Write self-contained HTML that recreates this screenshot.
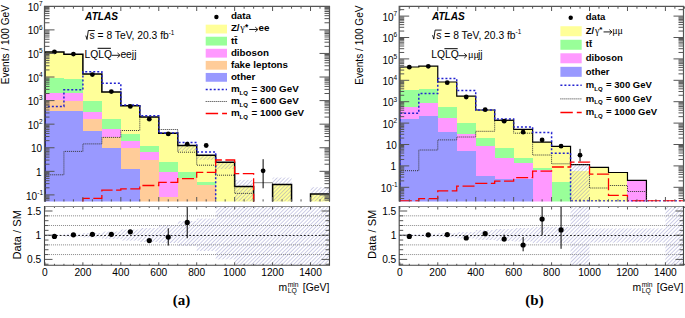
<!DOCTYPE html>
<html><head><meta charset="utf-8"><title>LQ figure</title>
<style>html,body{margin:0;padding:0;background:#fff;}body{width:685px;height:318px;overflow:hidden;}svg{display:block;}text{font-family:"Liberation Sans", sans-serif;}</style>
</head><body>
<svg width="685" height="318" viewBox="0 0 685 318">
<defs>
<pattern id="hatch" patternUnits="userSpaceOnUse" width="2.7" height="2.7" patternTransform="rotate(45)"><rect x="0" y="0" width="0.9" height="2.7" fill="#8080c0" fill-opacity="0.42"/></pattern>
<clipPath id="cl"><rect x="44.5" y="6.5" width="285" height="195"/></clipPath>
<clipPath id="cr"><rect x="399.2" y="6.5" width="284.3" height="195"/></clipPath>
<clipPath id="clr"><rect x="44.5" y="206.5" width="285" height="58.8"/></clipPath>
<clipPath id="crr"><rect x="399.2" y="206.5" width="284.3" height="58.8"/></clipPath>
</defs>
<rect width="685" height="318" fill="#fff"/>
<g clip-path="url(#cl)">
<g shape-rendering="crispEdges">
<rect x="44.95" y="52" width="18.97" height="25.8" fill="#ffff99"/>
<rect x="44.95" y="77.8" width="18.97" height="14.8" fill="#99ff99"/>
<rect x="44.95" y="92.6" width="18.97" height="7.5" fill="#ff99ff"/>
<rect x="44.95" y="100.1" width="18.97" height="11.3" fill="#ffcc99"/>
<rect x="44.95" y="111.4" width="18.97" height="90.1" fill="#9999ff"/>
<rect x="63.92" y="54.2" width="18.97" height="24.8" fill="#ffff99"/>
<rect x="63.92" y="79" width="18.97" height="13.8" fill="#99ff99"/>
<rect x="63.92" y="92.8" width="18.97" height="8" fill="#ff99ff"/>
<rect x="63.92" y="100.8" width="18.97" height="10" fill="#ffcc99"/>
<rect x="63.92" y="110.8" width="18.97" height="90.7" fill="#9999ff"/>
<rect x="82.89" y="74" width="18.97" height="27.1" fill="#ffff99"/>
<rect x="82.89" y="101.1" width="18.97" height="11" fill="#99ff99"/>
<rect x="82.89" y="112.1" width="18.97" height="6.5" fill="#ff99ff"/>
<rect x="82.89" y="118.6" width="18.97" height="12.1" fill="#ffcc99"/>
<rect x="82.89" y="130.7" width="18.97" height="70.8" fill="#9999ff"/>
<rect x="101.86" y="92" width="18.97" height="27.4" fill="#ffff99"/>
<rect x="101.86" y="119.4" width="18.97" height="9.4" fill="#99ff99"/>
<rect x="101.86" y="128.8" width="18.97" height="8.6" fill="#ff99ff"/>
<rect x="101.86" y="137.4" width="18.97" height="10.9" fill="#ffcc99"/>
<rect x="101.86" y="148.3" width="18.97" height="53.2" fill="#9999ff"/>
<rect x="120.83" y="105.8" width="18.97" height="27.9" fill="#ffff99"/>
<rect x="120.83" y="133.7" width="18.97" height="7.7" fill="#99ff99"/>
<rect x="120.83" y="141.4" width="18.97" height="6.6" fill="#ff99ff"/>
<rect x="120.83" y="148" width="18.97" height="20.9" fill="#ffcc99"/>
<rect x="120.83" y="168.9" width="18.97" height="32.6" fill="#9999ff"/>
<rect x="139.8" y="117.1" width="18.97" height="28.7" fill="#ffff99"/>
<rect x="139.8" y="145.8" width="18.97" height="5.7" fill="#99ff99"/>
<rect x="139.8" y="151.5" width="18.97" height="8.3" fill="#ff99ff"/>
<rect x="139.8" y="159.8" width="18.97" height="41.7" fill="#ffcc99"/>
<rect x="158.77" y="133.2" width="18.97" height="28.8" fill="#ffff99"/>
<rect x="158.77" y="162" width="18.97" height="9.7" fill="#99ff99"/>
<rect x="158.77" y="171.7" width="18.97" height="25.3" fill="#ff99ff"/>
<rect x="158.77" y="197" width="18.97" height="4.5" fill="#ffcc99"/>
<rect x="177.74" y="145.4" width="18.97" height="26.4" fill="#ffff99"/>
<rect x="177.74" y="171.8" width="18.97" height="5.8" fill="#99ff99"/>
<rect x="177.74" y="177.6" width="18.97" height="23.9" fill="#ffcc99"/>
<rect x="196.71" y="155.2" width="18.97" height="26.9" fill="#ffff99"/>
<rect x="196.71" y="182.1" width="18.97" height="2.4" fill="#99ff99"/>
<rect x="196.71" y="184.5" width="18.97" height="17" fill="#ffcc99"/>
<rect x="215.68" y="162.3" width="18.97" height="39.2" fill="#ffff99"/>
<rect x="234.65" y="186.6" width="18.97" height="14.9" fill="#ffff99"/>
<rect x="272.59" y="184.6" width="18.97" height="16.9" fill="#ffff99"/>
<rect x="310.53" y="194" width="18.97" height="7.5" fill="#ffff99"/>
</g>
<rect x="177.74" y="145.4" width="18.97" height="5.6" fill="url(#hatch)"/>
<rect x="196.71" y="155.2" width="18.97" height="4.6" fill="url(#hatch)"/>
<rect x="215.68" y="162.3" width="18.97" height="6.7" fill="url(#hatch)"/>
<rect x="234.65" y="179.9" width="18.97" height="21.6" fill="url(#hatch)"/>
<rect x="272.59" y="177.6" width="18.97" height="23.9" fill="url(#hatch)"/>
<rect x="310.53" y="187.2" width="18.97" height="14.3" fill="url(#hatch)"/>
<path d="M253.62 182.7H272.59V201.5" fill="none" stroke="#777" stroke-width="0.9"/>
<path d="M44.95 203.5V52H63.92V54.2H82.89V74H101.86V92H120.83V105.8H139.8V117.1H158.77V133.2H177.74V145.4H196.71V155.2H215.68V162.3H234.65V186.6H253.62V203.5H272.59V184.6H291.56V203.5H310.53V194H329.5" fill="none" stroke="#000" stroke-width="1.5"/>
<path d="M44.95 203.5V106.4H63.92V89.8H82.89V71.8H101.86V83.2H120.83V104.9H139.8V115.8H158.77V133H177.74V142.5H196.71V152H215.68V203.5H234.65V203.5H253.62V203.5H272.59V203.5H291.56V203.5H310.53V203.5H329.5" fill="none" stroke="#2222d0" stroke-width="1.5" stroke-dasharray="2 2"/>
<path d="M44.95 203.5V174.8H63.92V151.4H82.89V143.9H101.86V137.4H120.83V130.5H139.8V117.4H158.77V129.5H177.74V152.2H196.71V165.2H215.68V175.2H234.65V193.4H253.62V203.5H272.59V203.5H291.56V203.5H310.53V203.5H329.5" fill="none" stroke="#333" stroke-width="1" stroke-dasharray="1 1"/>
<path d="M82.89 203.5V198.4H101.86V190.2H120.83V188.9H139.8V185.5H158.77V182.4H177.74V178.6H196.71V172.4H215.68V160H234.65V173.6H253.62V203.5H272.59V203.5H291.56V203.5H310.53V203.5H329.5" fill="none" stroke="#ff0000" stroke-width="1.3" stroke-dasharray="12 3.5"/>
</g>
<circle cx="54.44" cy="51.9" r="2.4" fill="#000"/>
<circle cx="73.41" cy="54.1" r="2.4" fill="#000"/>
<circle cx="92.38" cy="74.6" r="2.4" fill="#000"/>
<circle cx="111.34" cy="91.6" r="2.4" fill="#000"/>
<circle cx="130.31" cy="106.4" r="2.4" fill="#000"/>
<circle cx="149.29" cy="119.2" r="2.4" fill="#000"/>
<circle cx="168.25" cy="133.9" r="2.4" fill="#000"/>
<circle cx="187.23" cy="144.2" r="2.4" fill="#000"/>
<circle cx="206.19" cy="145.5" r="2.4" fill="#000"/>
<circle cx="263.11" cy="170.8" r="2.4" fill="#000"/>
<line x1="263.11" y1="159.2" x2="263.11" y2="188.3" stroke="#000" stroke-width="1"/>
<g clip-path="url(#cr)">
<g shape-rendering="crispEdges">
<rect x="399.83" y="67" width="18.97" height="22.6" fill="#ffff99"/>
<rect x="399.83" y="89.6" width="18.97" height="17" fill="#99ff99"/>
<rect x="399.83" y="106.6" width="18.97" height="12.2" fill="#ff99ff"/>
<rect x="399.83" y="118.8" width="18.97" height="82.7" fill="#9999ff"/>
<rect x="418.8" y="66.1" width="18.97" height="22.9" fill="#ffff99"/>
<rect x="418.8" y="89" width="18.97" height="13.8" fill="#99ff99"/>
<rect x="418.8" y="102.8" width="18.97" height="13.1" fill="#ff99ff"/>
<rect x="418.8" y="115.9" width="18.97" height="85.6" fill="#9999ff"/>
<rect x="437.77" y="82" width="18.97" height="25.1" fill="#ffff99"/>
<rect x="437.77" y="107.1" width="18.97" height="11.1" fill="#99ff99"/>
<rect x="437.77" y="118.2" width="18.97" height="13.4" fill="#ff99ff"/>
<rect x="437.77" y="131.6" width="18.97" height="69.9" fill="#9999ff"/>
<rect x="456.74" y="96.2" width="18.97" height="26.9" fill="#ffff99"/>
<rect x="456.74" y="123.1" width="18.97" height="10.7" fill="#99ff99"/>
<rect x="456.74" y="133.8" width="18.97" height="17" fill="#ff99ff"/>
<rect x="456.74" y="150.8" width="18.97" height="50.7" fill="#9999ff"/>
<rect x="475.71" y="110" width="18.97" height="27.6" fill="#ffff99"/>
<rect x="475.71" y="137.6" width="18.97" height="8.8" fill="#99ff99"/>
<rect x="475.71" y="146.4" width="18.97" height="29.9" fill="#ff99ff"/>
<rect x="475.71" y="176.3" width="18.97" height="25.2" fill="#9999ff"/>
<rect x="494.68" y="120.4" width="18.97" height="27.9" fill="#ffff99"/>
<rect x="494.68" y="148.3" width="18.97" height="9.4" fill="#99ff99"/>
<rect x="494.68" y="157.7" width="18.97" height="21.7" fill="#ff99ff"/>
<rect x="494.68" y="179.4" width="18.97" height="22.1" fill="#9999ff"/>
<rect x="513.65" y="129.4" width="18.97" height="28.4" fill="#ffff99"/>
<rect x="513.65" y="157.8" width="18.97" height="5.2" fill="#99ff99"/>
<rect x="513.65" y="163" width="18.97" height="15.5" fill="#ff99ff"/>
<rect x="513.65" y="178.5" width="18.97" height="23" fill="#9999ff"/>
<rect x="532.62" y="142.2" width="18.97" height="26" fill="#ffff99"/>
<rect x="532.62" y="168.2" width="18.97" height="1.8" fill="#99ff99"/>
<rect x="532.62" y="170" width="18.97" height="31.5" fill="#ff99ff"/>
<rect x="551.59" y="146.4" width="18.97" height="35.6" fill="#ffff99"/>
<rect x="551.59" y="182" width="18.97" height="19.5" fill="#99ff99"/>
<rect x="570.56" y="171.1" width="18.97" height="30.4" fill="#ffff99"/>
<rect x="589.53" y="167.3" width="18.97" height="34.2" fill="#ffff99"/>
<rect x="608.5" y="172.5" width="18.97" height="29" fill="#ffff99"/>
<rect x="627.47" y="180.3" width="18.97" height="21.2" fill="#ff99ff"/>
</g>
<rect x="570.56" y="164.7" width="18.97" height="36.8" fill="url(#hatch)"/>
<path d="M399.83 203.5V67H418.8V66.1H437.77V82H456.74V96.2H475.71V110H494.68V120.4H513.65V129.4H532.62V142.2H551.59V146.4H570.56V164.7H589.53V167.3H608.5V172.5H627.47V180.3H646.44V203.5H665.41V203.5H684.38" fill="none" stroke="#000" stroke-width="1.2"/>
<path d="M399.83 200.9V113.2H418.8V93.6H437.77V78.5H456.74V90.6H475.71V110H494.68V119H513.65V127H532.62V132.6H551.59V153.2H570.56V200.9H589.53V200.9H608.5V200.9H627.47V200.9H646.44V200.9H665.41V200.9H684.38" fill="none" stroke="#2222d0" stroke-width="1.5" stroke-dasharray="2 2"/>
<path d="M399.83 203.5V170.7H418.8V150H437.77V139.9H456.74V137H475.71V131.3H494.68V120H513.65V133.2H532.62V155H551.59V163.8H570.56V164.5H589.53V188H608.5V185.5H627.47V191.5H646.44V203.5H665.41V203.5H684.38" fill="none" stroke="#333" stroke-width="1" stroke-dasharray="1 1"/>
<path d="M399.83 200.9V200.9H418.8V198.7H437.77V190.8H456.74V186.1H475.71V183.4H494.68V181.1H513.65V177.7H532.62V171.1H551.59V167H570.56V162.1H589.53V174.2H608.5V195.3H627.47V200.9H646.44V200.9H665.41V200.9H684.38" fill="none" stroke="#ff0000" stroke-width="1.3" stroke-dasharray="12 3.5"/>
</g>
<circle cx="409.31" cy="67.2" r="2.4" fill="#000"/>
<circle cx="428.28" cy="66.3" r="2.4" fill="#000"/>
<circle cx="447.25" cy="82.7" r="2.4" fill="#000"/>
<circle cx="466.23" cy="97" r="2.4" fill="#000"/>
<circle cx="485.19" cy="109.7" r="2.4" fill="#000"/>
<circle cx="504.16" cy="121.2" r="2.4" fill="#000"/>
<circle cx="523.13" cy="132.2" r="2.4" fill="#000"/>
<circle cx="542.11" cy="139.9" r="2.4" fill="#000"/>
<circle cx="561.07" cy="146.2" r="2.4" fill="#000"/>
<circle cx="580.04" cy="155.2" r="2.4" fill="#000"/>
<line x1="580.04" y1="148.9" x2="580.04" y2="161.4" stroke="#000" stroke-width="1"/>
<g clip-path="url(#clr)">
<rect x="44.95" y="234.6" width="18.97" height="1.2" fill="url(#hatch)"/>
<rect x="63.92" y="233.8" width="18.97" height="2.8" fill="url(#hatch)"/>
<rect x="82.89" y="233" width="18.97" height="4.4" fill="url(#hatch)"/>
<rect x="101.86" y="231.5" width="18.97" height="7.4" fill="url(#hatch)"/>
<rect x="120.83" y="229.5" width="18.97" height="11.1" fill="url(#hatch)"/>
<rect x="139.8" y="228" width="18.97" height="14" fill="url(#hatch)"/>
<rect x="158.77" y="225" width="18.97" height="18" fill="url(#hatch)"/>
<rect x="177.74" y="221" width="18.97" height="25" fill="url(#hatch)"/>
<rect x="196.71" y="218.5" width="18.97" height="32.5" fill="url(#hatch)"/>
<rect x="215.68" y="206" width="18.97" height="53.4" fill="url(#hatch)"/>
<rect x="234.65" y="206" width="94.85" height="59.2" fill="url(#hatch)"/>
<line x1="44.95" y1="215.84" x2="329.5" y2="215.84" stroke="#888" stroke-width="1" stroke-dasharray="1 1"/>
<line x1="44.95" y1="225.52" x2="329.5" y2="225.52" stroke="#888" stroke-width="1" stroke-dasharray="1 1"/>
<line x1="44.95" y1="244.88" x2="329.5" y2="244.88" stroke="#888" stroke-width="1" stroke-dasharray="1 1"/>
<line x1="44.95" y1="254.56" x2="329.5" y2="254.56" stroke="#888" stroke-width="1" stroke-dasharray="1 1"/>
<line x1="44.95" y1="235.5" x2="329.5" y2="235.5" stroke="#222" stroke-width="1" stroke-dasharray="1.8 1.9"/>
<line x1="168.25" y1="228.3" x2="168.25" y2="245.6" stroke="#000" stroke-width="1"/>
<line x1="187.23" y1="206" x2="187.23" y2="238.2" stroke="#000" stroke-width="1"/>
<circle cx="54.44" cy="236.4" r="2.6" fill="#000"/>
<circle cx="73.41" cy="234.8" r="2.6" fill="#000"/>
<circle cx="92.38" cy="234.3" r="2.6" fill="#000"/>
<circle cx="111.34" cy="234.3" r="2.6" fill="#000"/>
<circle cx="130.31" cy="231.8" r="2.6" fill="#000"/>
<circle cx="149.29" cy="240.6" r="2.6" fill="#000"/>
<circle cx="168.25" cy="237.1" r="2.6" fill="#000"/>
<circle cx="187.23" cy="222.4" r="2.6" fill="#000"/>
</g>
<g clip-path="url(#crr)">
<rect x="399.83" y="234.2" width="18.97" height="2" fill="url(#hatch)"/>
<rect x="418.8" y="233.8" width="18.97" height="2.8" fill="url(#hatch)"/>
<rect x="437.77" y="233.2" width="18.97" height="4" fill="url(#hatch)"/>
<rect x="456.74" y="232" width="18.97" height="6.4" fill="url(#hatch)"/>
<rect x="475.71" y="230" width="18.97" height="10" fill="url(#hatch)"/>
<rect x="494.68" y="229" width="18.97" height="12" fill="url(#hatch)"/>
<rect x="513.65" y="228" width="18.97" height="13.5" fill="url(#hatch)"/>
<rect x="532.62" y="227" width="37.94" height="16.1" fill="url(#hatch)"/>
<rect x="570.56" y="206" width="18.97" height="59.2" fill="url(#hatch)"/>
<rect x="589.53" y="228.4" width="75.88" height="14.2" fill="url(#hatch)"/>
<rect x="665.41" y="206" width="18.97" height="59.2" fill="url(#hatch)"/>
<line x1="399.83" y1="215.84" x2="684.38" y2="215.84" stroke="#888" stroke-width="1" stroke-dasharray="1 1"/>
<line x1="399.83" y1="225.52" x2="684.38" y2="225.52" stroke="#888" stroke-width="1" stroke-dasharray="1 1"/>
<line x1="399.83" y1="244.88" x2="684.38" y2="244.88" stroke="#888" stroke-width="1" stroke-dasharray="1 1"/>
<line x1="399.83" y1="254.56" x2="684.38" y2="254.56" stroke="#888" stroke-width="1" stroke-dasharray="1 1"/>
<line x1="399.83" y1="235.5" x2="684.38" y2="235.5" stroke="#222" stroke-width="1" stroke-dasharray="1.8 1.9"/>
<line x1="504.16" y1="234.6" x2="504.16" y2="241.5" stroke="#000" stroke-width="1"/>
<line x1="523.13" y1="237" x2="523.13" y2="251.3" stroke="#000" stroke-width="1"/>
<line x1="542.11" y1="206" x2="542.11" y2="235.2" stroke="#000" stroke-width="1"/>
<line x1="561.07" y1="206" x2="561.07" y2="248.8" stroke="#000" stroke-width="1"/>
<circle cx="409.31" cy="236.4" r="2.6" fill="#000"/>
<circle cx="428.28" cy="234.8" r="2.6" fill="#000"/>
<circle cx="447.25" cy="234.6" r="2.6" fill="#000"/>
<circle cx="466.23" cy="238" r="2.6" fill="#000"/>
<circle cx="485.19" cy="233.7" r="2.6" fill="#000"/>
<circle cx="504.16" cy="239" r="2.6" fill="#000"/>
<circle cx="523.13" cy="245" r="2.6" fill="#000"/>
<circle cx="542.11" cy="219.1" r="2.6" fill="#000"/>
<circle cx="561.07" cy="229.9" r="2.6" fill="#000"/>
</g>
<path d="M44.95 6.5v4.5M44.95 201.5v-4.5M54.44 6.5v2.2M54.44 201.5v-2.2M63.92 6.5v2.2M63.92 201.5v-2.2M73.41 6.5v2.2M73.41 201.5v-2.2M82.89 6.5v4.5M82.89 201.5v-4.5M92.38 6.5v2.2M92.38 201.5v-2.2M101.86 6.5v2.2M101.86 201.5v-2.2M111.34 6.5v2.2M111.34 201.5v-2.2M120.83 6.5v4.5M120.83 201.5v-4.5M130.31 6.5v2.2M130.31 201.5v-2.2M139.8 6.5v2.2M139.8 201.5v-2.2M149.28 6.5v2.2M149.28 201.5v-2.2M158.77 6.5v4.5M158.77 201.5v-4.5M168.25 6.5v2.2M168.25 201.5v-2.2M177.74 6.5v2.2M177.74 201.5v-2.2M187.22 6.5v2.2M187.22 201.5v-2.2M196.71 6.5v4.5M196.71 201.5v-4.5M206.19 6.5v2.2M206.19 201.5v-2.2M215.68 6.5v2.2M215.68 201.5v-2.2M225.16 6.5v2.2M225.16 201.5v-2.2M234.65 6.5v4.5M234.65 201.5v-4.5M244.13 6.5v2.2M244.13 201.5v-2.2M253.62 6.5v2.2M253.62 201.5v-2.2M263.1 6.5v2.2M263.1 201.5v-2.2M272.59 6.5v4.5M272.59 201.5v-4.5M282.07 6.5v2.2M282.07 201.5v-2.2M291.56 6.5v2.2M291.56 201.5v-2.2M301.04 6.5v2.2M301.04 201.5v-2.2M310.53 6.5v4.5M310.53 201.5v-4.5M320.01 6.5v2.2M320.01 201.5v-2.2M329.5 6.5v2.2M329.5 201.5v-2.2" stroke="#555" stroke-width="1" fill="none"/>
<path d="M44.5 200.13h5M329.5 200.13h-5M44.5 198.55h5M329.5 198.55h-5M44.5 197.18h5M329.5 197.18h-5M44.5 195.98h5M329.5 195.98h-5M44.5 194.9h10M329.5 194.9h-10M44.5 187.8h5M329.5 187.8h-5M44.5 183.65h5M329.5 183.65h-5M44.5 180.71h5M329.5 180.71h-5M44.5 178.42h5M329.5 178.42h-5M44.5 176.56h5M329.5 176.56h-5M44.5 174.98h5M329.5 174.98h-5M44.5 173.61h5M329.5 173.61h-5M44.5 172.4h5M329.5 172.4h-5M44.5 171.33h10M329.5 171.33h-10M44.5 164.23h5M329.5 164.23h-5M44.5 160.08h5M329.5 160.08h-5M44.5 157.13h5M329.5 157.13h-5M44.5 154.85h5M329.5 154.85h-5M44.5 152.98h5M329.5 152.98h-5M44.5 151.4h5M329.5 151.4h-5M44.5 150.03h5M329.5 150.03h-5M44.5 148.83h5M329.5 148.83h-5M44.5 147.75h10M329.5 147.75h-10M44.5 140.65h5M329.5 140.65h-5M44.5 136.5h5M329.5 136.5h-5M44.5 133.56h5M329.5 133.56h-5M44.5 131.27h5M329.5 131.27h-5M44.5 129.41h5M329.5 129.41h-5M44.5 127.83h5M329.5 127.83h-5M44.5 126.46h5M329.5 126.46h-5M44.5 125.25h5M329.5 125.25h-5M44.5 124.17h10M329.5 124.17h-10M44.5 117.08h5M329.5 117.08h-5M44.5 112.93h5M329.5 112.93h-5M44.5 109.98h5M329.5 109.98h-5M44.5 107.7h5M329.5 107.7h-5M44.5 105.83h5M329.5 105.83h-5M44.5 104.25h5M329.5 104.25h-5M44.5 102.88h5M329.5 102.88h-5M44.5 101.68h5M329.5 101.68h-5M44.5 100.6h10M329.5 100.6h-10M44.5 93.5h5M329.5 93.5h-5M44.5 89.35h5M329.5 89.35h-5M44.5 86.41h5M329.5 86.41h-5M44.5 84.12h5M329.5 84.12h-5M44.5 82.26h5M329.5 82.26h-5M44.5 80.68h5M329.5 80.68h-5M44.5 79.31h5M329.5 79.31h-5M44.5 78.1h5M329.5 78.1h-5M44.5 77.02h10M329.5 77.02h-10M44.5 69.93h5M329.5 69.93h-5M44.5 65.78h5M329.5 65.78h-5M44.5 62.83h5M329.5 62.83h-5M44.5 60.55h5M329.5 60.55h-5M44.5 58.68h5M329.5 58.68h-5M44.5 57.1h5M329.5 57.1h-5M44.5 55.73h5M329.5 55.73h-5M44.5 54.53h5M329.5 54.53h-5M44.5 53.45h10M329.5 53.45h-10M44.5 46.35h5M329.5 46.35h-5M44.5 42.2h5M329.5 42.2h-5M44.5 39.26h5M329.5 39.26h-5M44.5 36.97h5M329.5 36.97h-5M44.5 35.11h5M329.5 35.11h-5M44.5 33.53h5M329.5 33.53h-5M44.5 32.16h5M329.5 32.16h-5M44.5 30.95h5M329.5 30.95h-5M44.5 29.88h10M329.5 29.88h-10M44.5 22.78h5M329.5 22.78h-5M44.5 18.63h5M329.5 18.63h-5M44.5 15.68h5M329.5 15.68h-5M44.5 13.4h5M329.5 13.4h-5M44.5 11.53h5M329.5 11.53h-5M44.5 9.95h5M329.5 9.95h-5M44.5 8.58h5M329.5 8.58h-5M44.5 7.38h5M329.5 7.38h-5" stroke="#555" stroke-width="1" fill="none"/>
<path d="M44.5 201.5V6.3H329.5V201.5" fill="none" stroke="#555" stroke-width="1.2"/>
<path d="M44.95 206.5v3M44.95 265.3v-3M54.44 206.5v1.5M54.44 265.3v-1.5M63.92 206.5v1.5M63.92 265.3v-1.5M73.41 206.5v1.5M73.41 265.3v-1.5M82.89 206.5v3M82.89 265.3v-3M92.38 206.5v1.5M92.38 265.3v-1.5M101.86 206.5v1.5M101.86 265.3v-1.5M111.34 206.5v1.5M111.34 265.3v-1.5M120.83 206.5v3M120.83 265.3v-3M130.31 206.5v1.5M130.31 265.3v-1.5M139.8 206.5v1.5M139.8 265.3v-1.5M149.28 206.5v1.5M149.28 265.3v-1.5M158.77 206.5v3M158.77 265.3v-3M168.25 206.5v1.5M168.25 265.3v-1.5M177.74 206.5v1.5M177.74 265.3v-1.5M187.22 206.5v1.5M187.22 265.3v-1.5M196.71 206.5v3M196.71 265.3v-3M206.19 206.5v1.5M206.19 265.3v-1.5M215.68 206.5v1.5M215.68 265.3v-1.5M225.16 206.5v1.5M225.16 265.3v-1.5M234.65 206.5v3M234.65 265.3v-3M244.13 206.5v1.5M244.13 265.3v-1.5M253.62 206.5v1.5M253.62 265.3v-1.5M263.1 206.5v1.5M263.1 265.3v-1.5M272.59 206.5v3M272.59 265.3v-3M282.07 206.5v1.5M282.07 265.3v-1.5M291.56 206.5v1.5M291.56 265.3v-1.5M301.04 206.5v1.5M301.04 265.3v-1.5M310.53 206.5v3M310.53 265.3v-3M320.01 206.5v1.5M320.01 265.3v-1.5M329.5 206.5v1.5M329.5 265.3v-1.5" stroke="#555" stroke-width="1" fill="none"/>
<path d="M44.5 264.24h4M329.5 264.24h-4M44.5 259.4h8M329.5 259.4h-8M44.5 254.56h4M329.5 254.56h-4M44.5 249.72h4M329.5 249.72h-4M44.5 244.88h4M329.5 244.88h-4M44.5 240.04h4M329.5 240.04h-4M44.5 235.2h8M329.5 235.2h-8M44.5 230.36h4M329.5 230.36h-4M44.5 225.52h4M329.5 225.52h-4M44.5 220.68h4M329.5 220.68h-4M44.5 215.84h4M329.5 215.84h-4M44.5 211h8M329.5 211h-8" stroke="#555" stroke-width="1" fill="none"/>
<path d="M44.5 206.5H329.5" fill="none" stroke="#888" stroke-width="1"/>
<path d="M44.5 206V265.3H329.5V206" fill="none" stroke="#444" stroke-width="1.1"/>
<path d="M399.83 6.5v4.5M399.83 201.5v-4.5M409.31 6.5v2.2M409.31 201.5v-2.2M418.8 6.5v2.2M418.8 201.5v-2.2M428.28 6.5v2.2M428.28 201.5v-2.2M437.77 6.5v4.5M437.77 201.5v-4.5M447.25 6.5v2.2M447.25 201.5v-2.2M456.74 6.5v2.2M456.74 201.5v-2.2M466.22 6.5v2.2M466.22 201.5v-2.2M475.71 6.5v4.5M475.71 201.5v-4.5M485.19 6.5v2.2M485.19 201.5v-2.2M494.68 6.5v2.2M494.68 201.5v-2.2M504.16 6.5v2.2M504.16 201.5v-2.2M513.65 6.5v4.5M513.65 201.5v-4.5M523.13 6.5v2.2M523.13 201.5v-2.2M532.62 6.5v2.2M532.62 201.5v-2.2M542.11 6.5v2.2M542.11 201.5v-2.2M551.59 6.5v4.5M551.59 201.5v-4.5M561.08 6.5v2.2M561.08 201.5v-2.2M570.56 6.5v2.2M570.56 201.5v-2.2M580.04 6.5v2.2M580.04 201.5v-2.2M589.53 6.5v4.5M589.53 201.5v-4.5M599.01 6.5v2.2M599.01 201.5v-2.2M608.5 6.5v2.2M608.5 201.5v-2.2M617.98 6.5v2.2M617.98 201.5v-2.2M627.47 6.5v4.5M627.47 201.5v-4.5M636.95 6.5v2.2M636.95 201.5v-2.2M646.44 6.5v2.2M646.44 201.5v-2.2M655.92 6.5v2.2M655.92 201.5v-2.2M665.41 6.5v4.5M665.41 201.5v-4.5M674.89 6.5v2.2M674.89 201.5v-2.2M684.38 6.5v2.2M684.38 201.5v-2.2" stroke="#555" stroke-width="1" fill="none"/>
<path d="M399.2 198.49h5M683.5 198.49h-5M399.2 195.82h5M683.5 195.82h-5M399.2 193.74h5M683.5 193.74h-5M399.2 192.05h5M683.5 192.05h-5M399.2 190.61h5M683.5 190.61h-5M399.2 189.37h5M683.5 189.37h-5M399.2 188.28h5M683.5 188.28h-5M399.2 187.3h10M683.5 187.3h-10M399.2 180.86h5M683.5 180.86h-5M399.2 177.09h5M683.5 177.09h-5M399.2 174.42h5M683.5 174.42h-5M399.2 172.34h5M683.5 172.34h-5M399.2 170.65h5M683.5 170.65h-5M399.2 169.21h5M683.5 169.21h-5M399.2 167.97h5M683.5 167.97h-5M399.2 166.88h5M683.5 166.88h-5M399.2 165.9h10M683.5 165.9h-10M399.2 159.46h5M683.5 159.46h-5M399.2 155.69h5M683.5 155.69h-5M399.2 153.02h5M683.5 153.02h-5M399.2 150.94h5M683.5 150.94h-5M399.2 149.25h5M683.5 149.25h-5M399.2 147.81h5M683.5 147.81h-5M399.2 146.57h5M683.5 146.57h-5M399.2 145.48h5M683.5 145.48h-5M399.2 144.5h10M683.5 144.5h-10M399.2 138.06h5M683.5 138.06h-5M399.2 134.29h5M683.5 134.29h-5M399.2 131.62h5M683.5 131.62h-5M399.2 129.54h5M683.5 129.54h-5M399.2 127.85h5M683.5 127.85h-5M399.2 126.41h5M683.5 126.41h-5M399.2 125.17h5M683.5 125.17h-5M399.2 124.08h5M683.5 124.08h-5M399.2 123.1h10M683.5 123.1h-10M399.2 116.66h5M683.5 116.66h-5M399.2 112.89h5M683.5 112.89h-5M399.2 110.22h5M683.5 110.22h-5M399.2 108.14h5M683.5 108.14h-5M399.2 106.45h5M683.5 106.45h-5M399.2 105.01h5M683.5 105.01h-5M399.2 103.77h5M683.5 103.77h-5M399.2 102.68h5M683.5 102.68h-5M399.2 101.7h10M683.5 101.7h-10M399.2 95.26h5M683.5 95.26h-5M399.2 91.49h5M683.5 91.49h-5M399.2 88.82h5M683.5 88.82h-5M399.2 86.74h5M683.5 86.74h-5M399.2 85.05h5M683.5 85.05h-5M399.2 83.61h5M683.5 83.61h-5M399.2 82.37h5M683.5 82.37h-5M399.2 81.28h5M683.5 81.28h-5M399.2 80.3h10M683.5 80.3h-10M399.2 73.86h5M683.5 73.86h-5M399.2 70.09h5M683.5 70.09h-5M399.2 67.42h5M683.5 67.42h-5M399.2 65.34h5M683.5 65.34h-5M399.2 63.65h5M683.5 63.65h-5M399.2 62.21h5M683.5 62.21h-5M399.2 60.97h5M683.5 60.97h-5M399.2 59.88h5M683.5 59.88h-5M399.2 58.9h10M683.5 58.9h-10M399.2 52.46h5M683.5 52.46h-5M399.2 48.69h5M683.5 48.69h-5M399.2 46.02h5M683.5 46.02h-5M399.2 43.94h5M683.5 43.94h-5M399.2 42.25h5M683.5 42.25h-5M399.2 40.81h5M683.5 40.81h-5M399.2 39.57h5M683.5 39.57h-5M399.2 38.48h5M683.5 38.48h-5M399.2 37.5h10M683.5 37.5h-10M399.2 31.06h5M683.5 31.06h-5M399.2 27.29h5M683.5 27.29h-5M399.2 24.62h5M683.5 24.62h-5M399.2 22.54h5M683.5 22.54h-5M399.2 20.85h5M683.5 20.85h-5M399.2 19.41h5M683.5 19.41h-5M399.2 18.17h5M683.5 18.17h-5M399.2 17.08h5M683.5 17.08h-5M399.2 16.1h10M683.5 16.1h-10M399.2 9.66h5M683.5 9.66h-5" stroke="#555" stroke-width="1" fill="none"/>
<path d="M399.2 201.5V6.3H683.5V201.5" fill="none" stroke="#555" stroke-width="1.2"/>
<path d="M399.83 206.5v3M399.83 265.3v-3M409.31 206.5v1.5M409.31 265.3v-1.5M418.8 206.5v1.5M418.8 265.3v-1.5M428.28 206.5v1.5M428.28 265.3v-1.5M437.77 206.5v3M437.77 265.3v-3M447.25 206.5v1.5M447.25 265.3v-1.5M456.74 206.5v1.5M456.74 265.3v-1.5M466.22 206.5v1.5M466.22 265.3v-1.5M475.71 206.5v3M475.71 265.3v-3M485.19 206.5v1.5M485.19 265.3v-1.5M494.68 206.5v1.5M494.68 265.3v-1.5M504.16 206.5v1.5M504.16 265.3v-1.5M513.65 206.5v3M513.65 265.3v-3M523.13 206.5v1.5M523.13 265.3v-1.5M532.62 206.5v1.5M532.62 265.3v-1.5M542.11 206.5v1.5M542.11 265.3v-1.5M551.59 206.5v3M551.59 265.3v-3M561.08 206.5v1.5M561.08 265.3v-1.5M570.56 206.5v1.5M570.56 265.3v-1.5M580.04 206.5v1.5M580.04 265.3v-1.5M589.53 206.5v3M589.53 265.3v-3M599.01 206.5v1.5M599.01 265.3v-1.5M608.5 206.5v1.5M608.5 265.3v-1.5M617.98 206.5v1.5M617.98 265.3v-1.5M627.47 206.5v3M627.47 265.3v-3M636.95 206.5v1.5M636.95 265.3v-1.5M646.44 206.5v1.5M646.44 265.3v-1.5M655.92 206.5v1.5M655.92 265.3v-1.5M665.41 206.5v3M665.41 265.3v-3M674.89 206.5v1.5M674.89 265.3v-1.5M684.38 206.5v1.5M684.38 265.3v-1.5" stroke="#555" stroke-width="1" fill="none"/>
<path d="M399.2 264.24h4M683.5 264.24h-4M399.2 259.4h8M683.5 259.4h-8M399.2 254.56h4M683.5 254.56h-4M399.2 249.72h4M683.5 249.72h-4M399.2 244.88h4M683.5 244.88h-4M399.2 240.04h4M683.5 240.04h-4M399.2 235.2h8M683.5 235.2h-8M399.2 230.36h4M683.5 230.36h-4M399.2 225.52h4M683.5 225.52h-4M399.2 220.68h4M683.5 220.68h-4M399.2 215.84h4M683.5 215.84h-4M399.2 211h8M683.5 211h-8" stroke="#555" stroke-width="1" fill="none"/>
<path d="M399.2 206.5H683.5" fill="none" stroke="#888" stroke-width="1"/>
<path d="M399.2 206V265.3H683.5V206" fill="none" stroke="#444" stroke-width="1.1"/>
<text x="38.9" y="10.9" font-size="10" font-weight="normal" font-style="normal" text-anchor="end" fill="#000">10</text>
<text x="39" y="6.1" font-size="6.5" font-weight="normal" font-style="normal" text-anchor="start" fill="#000">7</text>
<text x="38.9" y="34.48" font-size="10" font-weight="normal" font-style="normal" text-anchor="end" fill="#000">10</text>
<text x="39" y="29.68" font-size="6.5" font-weight="normal" font-style="normal" text-anchor="start" fill="#000">6</text>
<text x="38.9" y="58.05" font-size="10" font-weight="normal" font-style="normal" text-anchor="end" fill="#000">10</text>
<text x="39" y="53.25" font-size="6.5" font-weight="normal" font-style="normal" text-anchor="start" fill="#000">5</text>
<text x="38.9" y="81.62" font-size="10" font-weight="normal" font-style="normal" text-anchor="end" fill="#000">10</text>
<text x="39" y="76.82" font-size="6.5" font-weight="normal" font-style="normal" text-anchor="start" fill="#000">4</text>
<text x="38.9" y="105.2" font-size="10" font-weight="normal" font-style="normal" text-anchor="end" fill="#000">10</text>
<text x="39" y="100.4" font-size="6.5" font-weight="normal" font-style="normal" text-anchor="start" fill="#000">3</text>
<text x="38.9" y="128.78" font-size="10" font-weight="normal" font-style="normal" text-anchor="end" fill="#000">10</text>
<text x="39" y="123.97" font-size="6.5" font-weight="normal" font-style="normal" text-anchor="start" fill="#000">2</text>
<text x="42.2" y="152.35" font-size="10" font-weight="normal" font-style="normal" text-anchor="end" fill="#000">10</text>
<text x="41.5" y="175.63" font-size="10" font-weight="normal" font-style="normal" text-anchor="end" fill="#000">1</text>
<text x="37.2" y="199.5" font-size="10" font-weight="normal" font-style="normal" text-anchor="end" fill="#000">10</text>
<text x="37.3" y="194.7" font-size="6.5" font-weight="normal" font-style="normal" text-anchor="start" fill="#000">-1</text>
<text x="393.5" y="20.7" font-size="10" font-weight="normal" font-style="normal" text-anchor="end" fill="#000">10</text>
<text x="393.6" y="15.9" font-size="6.5" font-weight="normal" font-style="normal" text-anchor="start" fill="#000">7</text>
<text x="393.5" y="42.1" font-size="10" font-weight="normal" font-style="normal" text-anchor="end" fill="#000">10</text>
<text x="393.6" y="37.3" font-size="6.5" font-weight="normal" font-style="normal" text-anchor="start" fill="#000">6</text>
<text x="393.5" y="63.5" font-size="10" font-weight="normal" font-style="normal" text-anchor="end" fill="#000">10</text>
<text x="393.6" y="58.7" font-size="6.5" font-weight="normal" font-style="normal" text-anchor="start" fill="#000">5</text>
<text x="393.5" y="84.9" font-size="10" font-weight="normal" font-style="normal" text-anchor="end" fill="#000">10</text>
<text x="393.6" y="80.1" font-size="6.5" font-weight="normal" font-style="normal" text-anchor="start" fill="#000">4</text>
<text x="393.5" y="106.3" font-size="10" font-weight="normal" font-style="normal" text-anchor="end" fill="#000">10</text>
<text x="393.6" y="101.5" font-size="6.5" font-weight="normal" font-style="normal" text-anchor="start" fill="#000">3</text>
<text x="393.5" y="127.7" font-size="10" font-weight="normal" font-style="normal" text-anchor="end" fill="#000">10</text>
<text x="393.6" y="122.9" font-size="6.5" font-weight="normal" font-style="normal" text-anchor="start" fill="#000">2</text>
<text x="396.8" y="149.1" font-size="10" font-weight="normal" font-style="normal" text-anchor="end" fill="#000">10</text>
<text x="396.1" y="170.2" font-size="10" font-weight="normal" font-style="normal" text-anchor="end" fill="#000">1</text>
<text x="391.8" y="191.9" font-size="10" font-weight="normal" font-style="normal" text-anchor="end" fill="#000">10</text>
<text x="391.9" y="187.1" font-size="6.5" font-weight="normal" font-style="normal" text-anchor="start" fill="#000">-1</text>
<text x="41.2" y="214.7" font-size="10.2" font-weight="normal" font-style="normal" text-anchor="end" fill="#000">1.5</text>
<text x="41.2" y="238.9" font-size="10.2" font-weight="normal" font-style="normal" text-anchor="end" fill="#000">1</text>
<text x="41.2" y="263.1" font-size="10.2" font-weight="normal" font-style="normal" text-anchor="end" fill="#000">0.5</text>
<text x="396.3" y="214.7" font-size="10.2" font-weight="normal" font-style="normal" text-anchor="end" fill="#000">1.5</text>
<text x="396.3" y="238.9" font-size="10.2" font-weight="normal" font-style="normal" text-anchor="end" fill="#000">1</text>
<text x="396.3" y="263.1" font-size="10.2" font-weight="normal" font-style="normal" text-anchor="end" fill="#000">0.5</text>
<text x="44.95" y="276.4" font-size="10.2" font-weight="normal" font-style="normal" text-anchor="middle" fill="#000">0</text>
<text x="82.89" y="276.4" font-size="10.2" font-weight="normal" font-style="normal" text-anchor="middle" fill="#000">200</text>
<text x="120.83" y="276.4" font-size="10.2" font-weight="normal" font-style="normal" text-anchor="middle" fill="#000">400</text>
<text x="158.77" y="276.4" font-size="10.2" font-weight="normal" font-style="normal" text-anchor="middle" fill="#000">600</text>
<text x="196.71" y="276.4" font-size="10.2" font-weight="normal" font-style="normal" text-anchor="middle" fill="#000">800</text>
<text x="234.65" y="276.4" font-size="10.2" font-weight="normal" font-style="normal" text-anchor="middle" fill="#000">1000</text>
<text x="272.59" y="276.4" font-size="10.2" font-weight="normal" font-style="normal" text-anchor="middle" fill="#000">1200</text>
<text x="310.53" y="276.4" font-size="10.2" font-weight="normal" font-style="normal" text-anchor="middle" fill="#000">1400</text>
<text x="399.83" y="276.4" font-size="10.2" font-weight="normal" font-style="normal" text-anchor="middle" fill="#000">0</text>
<text x="437.77" y="276.4" font-size="10.2" font-weight="normal" font-style="normal" text-anchor="middle" fill="#000">200</text>
<text x="475.71" y="276.4" font-size="10.2" font-weight="normal" font-style="normal" text-anchor="middle" fill="#000">400</text>
<text x="513.65" y="276.4" font-size="10.2" font-weight="normal" font-style="normal" text-anchor="middle" fill="#000">600</text>
<text x="551.59" y="276.4" font-size="10.2" font-weight="normal" font-style="normal" text-anchor="middle" fill="#000">800</text>
<text x="589.53" y="276.4" font-size="10.2" font-weight="normal" font-style="normal" text-anchor="middle" fill="#000">1000</text>
<text x="627.47" y="276.4" font-size="10.2" font-weight="normal" font-style="normal" text-anchor="middle" fill="#000">1200</text>
<text x="665.41" y="276.4" font-size="10.2" font-weight="normal" font-style="normal" text-anchor="middle" fill="#000">1400</text>
<text transform="translate(8.9 5) rotate(-90)" font-size="10.15" text-anchor="end">Events / 100 GeV</text>
<text transform="translate(363.4 5.4) rotate(-90)" font-size="10.15" text-anchor="end">Events / 100 GeV</text>
<text transform="translate(21.1 210.1) rotate(-90)" font-size="11.1" text-anchor="end">Data / SM</text>
<text transform="translate(376.1 209.7) rotate(-90)" font-size="11.1" text-anchor="end">Data / SM</text>
<text x="329.4" y="291.2" font-size="10.4" font-weight="normal" font-style="normal" text-anchor="end" fill="#000">[GeV]</text>
<text x="278.4" y="291.2" font-size="10.4" font-weight="normal" font-style="normal" text-anchor="start" fill="#000">m</text>
<text x="287.7" y="287.2" font-size="6.8" font-weight="normal" font-style="normal" text-anchor="start" fill="#000">min</text>
<text x="287.7" y="292.8" font-size="6.8" font-weight="normal" font-style="normal" text-anchor="start" fill="#000">LQ</text>
<text x="683.4" y="291.2" font-size="10.4" font-weight="normal" font-style="normal" text-anchor="end" fill="#000">[GeV]</text>
<text x="632.4" y="291.2" font-size="10.4" font-weight="normal" font-style="normal" text-anchor="start" fill="#000">m</text>
<text x="641.7" y="287.2" font-size="6.8" font-weight="normal" font-style="normal" text-anchor="start" fill="#000">min</text>
<text x="641.7" y="292.8" font-size="6.8" font-weight="normal" font-style="normal" text-anchor="start" fill="#000">LQ</text>
<text x="181.5" y="304.8" font-size="15" font-weight="bold" text-anchor="middle" style="font-family:'Liberation Serif',serif">(a)</text>
<text x="534.5" y="304.8" font-size="15" font-weight="bold" text-anchor="middle" style="font-family:'Liberation Serif',serif">(b)</text>
<text x="85.1" y="19.6" font-size="10.1" font-weight="bold" font-style="italic" text-anchor="start" fill="#000">ATLAS</text>
<path d="M85.8 35.6 L87 39.5 L88.3 30.5 L94.8 30.5" fill="none" stroke="#000" stroke-width="0.9"/>
<text x="89.5" y="39" font-size="10.3" font-weight="normal" font-style="normal" text-anchor="start" fill="#000">s = 8 TeV, 20.3 fb</text>
<text x="168.7" y="34.8" font-size="6.4" font-weight="normal" font-style="normal" text-anchor="start" fill="#000">-1</text>
<text x="84.5" y="57.6" font-size="10.3" font-weight="normal" font-style="normal" text-anchor="start" fill="#000">LQLQ</text>
<line x1="97.6" y1="48.3" x2="110.9" y2="48.3" stroke="#000" stroke-width="1"/>
<path d="M111.6 55.3H119.5" stroke="#000" stroke-width="0.9" fill="none"/>
<path d="M117.5 53L120.1 55.3L117.5 57.6" stroke="#000" stroke-width="0.9" fill="none" stroke-linejoin="miter"/>
<text x="120.4" y="57.6" font-size="10.3" font-weight="normal" font-style="normal" text-anchor="start" fill="#000">eejj</text>
<text x="431.9" y="19.7" font-size="10.1" font-weight="bold" font-style="italic" text-anchor="start" fill="#000">ATLAS</text>
<path d="M432.6 35.2 L433.8 39.1 L435.1 30.1 L441.6 30.1" fill="none" stroke="#000" stroke-width="0.9"/>
<text x="436.3" y="38.6" font-size="10.3" font-weight="normal" font-style="normal" text-anchor="start" fill="#000">s = 8 TeV, 20.3 fb</text>
<text x="515.5" y="34.4" font-size="6.4" font-weight="normal" font-style="normal" text-anchor="start" fill="#000">-1</text>
<text x="431.3" y="58" font-size="10.3" font-weight="normal" font-style="normal" text-anchor="start" fill="#000">LQLQ</text>
<line x1="444.4" y1="48.7" x2="457.7" y2="48.7" stroke="#000" stroke-width="1"/>
<path d="M458.4 55.7H466.3" stroke="#000" stroke-width="0.9" fill="none"/>
<path d="M464.3 53.4L466.9 55.7L464.3 58" stroke="#000" stroke-width="0.9" fill="none" stroke-linejoin="miter"/>
<text x="468.1" y="58" font-size="10.3" font-weight="normal" font-style="normal" text-anchor="start" fill="#000" style="font-family:'Liberation Serif',serif">&#956;&#956;</text>
<text x="477.9" y="58" font-size="10.3" font-weight="normal" font-style="normal" text-anchor="start" fill="#000">jj</text>
<circle cx="216.4" cy="17" r="2.2" fill="#000"/>
<text x="230.9" y="19.4" font-size="9.8" font-weight="bold">data</text>
<rect x="205.7" y="24.67" width="21.3" height="8.8" fill="#ffff99"/>
<text x="230.9" y="31.47" font-size="9.8" font-weight="bold">Z/</text>
<text x="240.3" y="31.47" font-size="10.29" style="font-family:'Liberation Serif',serif">&#947;</text>
<text x="244.9" y="29.67" font-size="8.33" font-weight="bold">*</text>
<path d="M249.2 29.47H257.3" stroke="#000" stroke-width="0.9" fill="none"/>
<path d="M255.3 27.17L257.9 29.47L255.3 31.77" stroke="#000" stroke-width="0.9" fill="none" stroke-linejoin="miter"/>
<text x="258.5" y="31.47" font-size="9.8" font-weight="bold">ee</text>
<rect x="205.7" y="36.74" width="21.3" height="8.8" fill="#99ff99"/>
<text x="230.9" y="43.54" font-size="9.8" font-weight="bold">t<tspan>t&#772;</tspan></text>
<rect x="205.7" y="48.81" width="21.3" height="8.8" fill="#ff99ff"/>
<text x="230.9" y="55.61" font-size="9.8" font-weight="bold">diboson</text>
<rect x="205.7" y="60.88" width="21.3" height="8.8" fill="#ffcc99"/>
<text x="230.9" y="67.68" font-size="9.8" font-weight="bold">fake leptons</text>
<rect x="205.7" y="72.95" width="21.3" height="8.8" fill="#9999ff"/>
<text x="230.9" y="79.75" font-size="9.8" font-weight="bold">other</text>
<line x1="205.7" y1="89.42" x2="227" y2="89.42" stroke="#2222d0" stroke-width="1.5" stroke-dasharray="2 2"/>
<text x="230.9" y="91.82" font-size="9.8" font-weight="bold">m<tspan font-size="6.0" dy="2.8">LQ</tspan><tspan dy="-2.8" dx="0.9"> = 300 GeV</tspan></text>
<line x1="205.7" y1="101.49" x2="227" y2="101.49" stroke="#333" stroke-width="1" stroke-dasharray="1 1"/>
<text x="230.9" y="103.89" font-size="9.8" font-weight="bold">m<tspan font-size="6.0" dy="2.8">LQ</tspan><tspan dy="-2.8" dx="0.9"> = 600 GeV</tspan></text>
<line x1="205.7" y1="113.56" x2="227" y2="113.56" stroke="#ff0000" stroke-width="1.5" stroke-dasharray="12.4 4"/>
<text x="230.9" y="115.96" font-size="9.8" font-weight="bold">m<tspan font-size="6.0" dy="2.8">LQ</tspan><tspan dy="-2.8" dx="0.9"> = 1000 GeV</tspan></text>
<circle cx="570.7" cy="17.7" r="2.2" fill="#000"/>
<text x="585.8" y="20.4" font-size="9.5" font-weight="bold">data</text>
<rect x="560.4" y="26.23" width="21.3" height="10" fill="#ffff99"/>
<text x="585.8" y="33.93" font-size="9.5" font-weight="bold">Z/</text>
<text x="594.91" y="33.93" font-size="9.97" style="font-family:'Liberation Serif',serif">&#947;</text>
<text x="599.37" y="32.13" font-size="8.07" font-weight="bold">*</text>
<path d="M603.54 31.93H611.37" stroke="#000" stroke-width="0.9" fill="none"/>
<path d="M609.37 29.63L611.97 31.93L609.37 34.23" stroke="#000" stroke-width="0.9" fill="none" stroke-linejoin="miter"/>
<text x="612.17" y="33.93" font-size="9.97" style="font-family:'Liberation Serif',serif">&#956;&#956;</text>
<rect x="560.4" y="39.76" width="21.3" height="10" fill="#99ff99"/>
<text x="585.8" y="47.46" font-size="9.5" font-weight="bold">t<tspan>t&#772;</tspan></text>
<rect x="560.4" y="53.29" width="21.3" height="10" fill="#ff99ff"/>
<text x="585.8" y="60.99" font-size="9.5" font-weight="bold">diboson</text>
<rect x="560.4" y="66.82" width="21.3" height="10" fill="#9999ff"/>
<text x="585.8" y="74.52" font-size="9.5" font-weight="bold">other</text>
<line x1="560.4" y1="85.35" x2="581.7" y2="85.35" stroke="#2222d0" stroke-width="1.5" stroke-dasharray="2 2"/>
<text x="585.8" y="88.05" font-size="9.5" font-weight="bold">m<tspan font-size="6.0" dy="2.8">LQ</tspan><tspan dy="-2.8" dx="0.9"> = 300 GeV</tspan></text>
<line x1="560.4" y1="98.88" x2="581.7" y2="98.88" stroke="#333" stroke-width="1" stroke-dasharray="1 1"/>
<text x="585.8" y="101.58" font-size="9.5" font-weight="bold">m<tspan font-size="6.0" dy="2.8">LQ</tspan><tspan dy="-2.8" dx="0.9"> = 600 GeV</tspan></text>
<line x1="560.4" y1="112.41" x2="581.7" y2="112.41" stroke="#ff0000" stroke-width="1.5" stroke-dasharray="12.4 4"/>
<text x="585.8" y="115.11" font-size="9.5" font-weight="bold">m<tspan font-size="6.0" dy="2.8">LQ</tspan><tspan dy="-2.8" dx="0.9"> = 1000 GeV</tspan></text>
</svg>
</body></html>
